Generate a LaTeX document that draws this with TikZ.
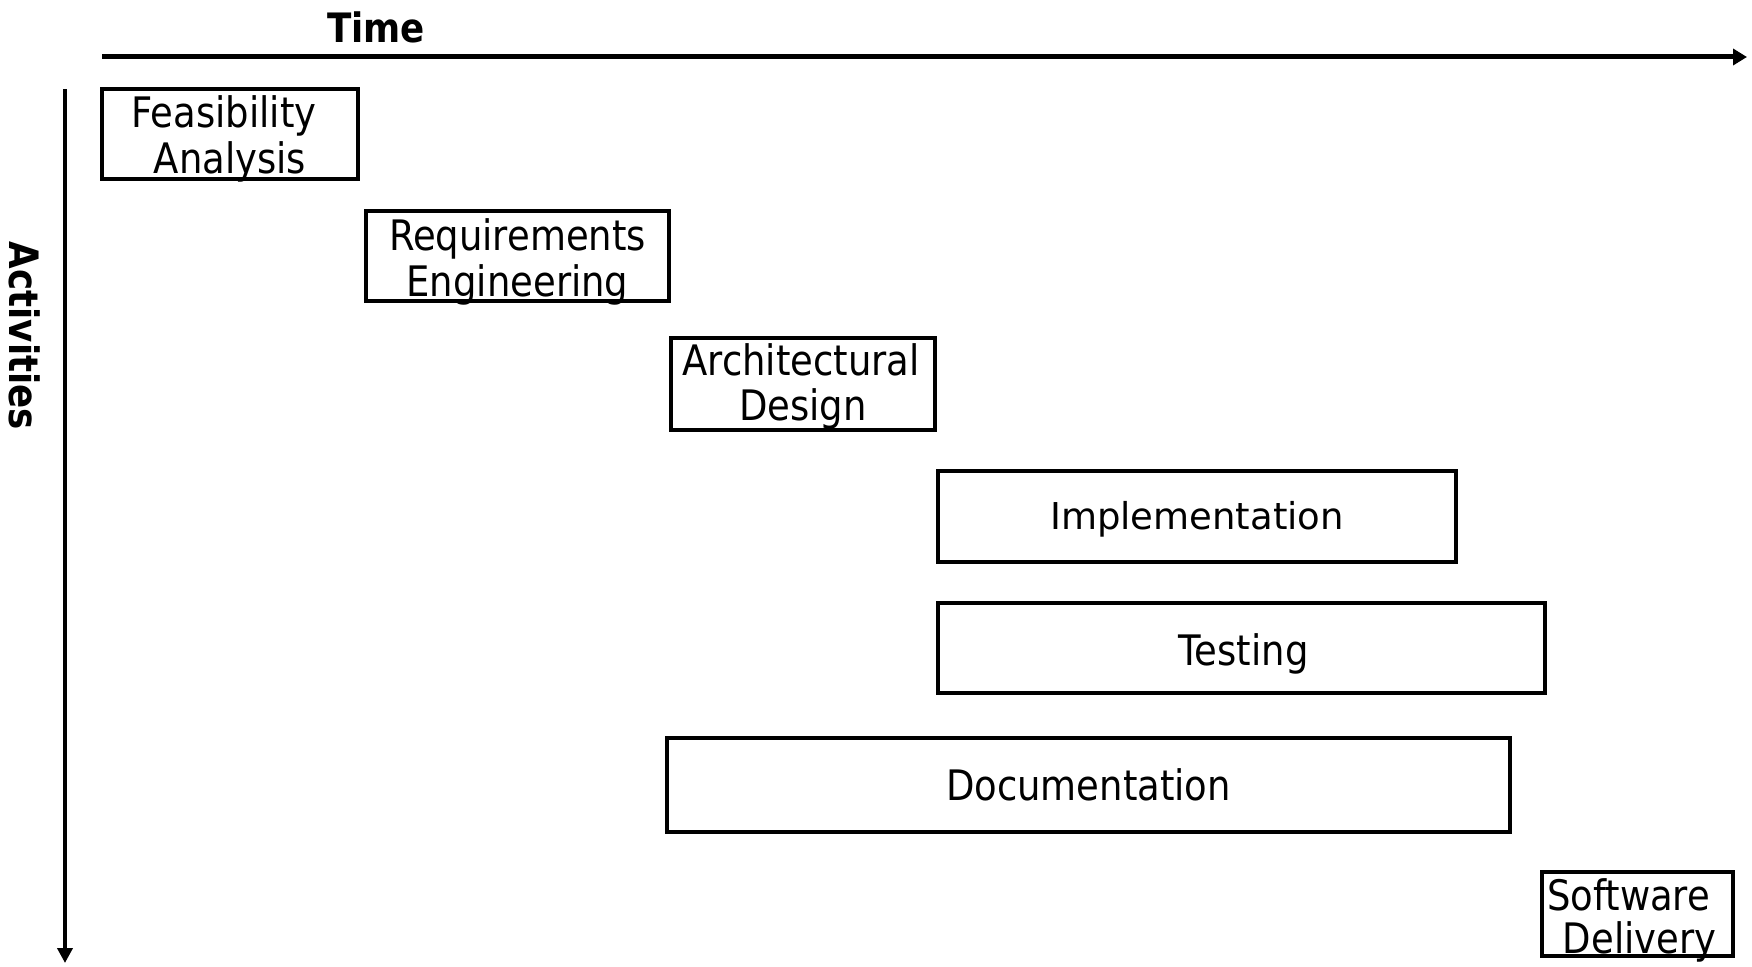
\documentclass[tikz,border=0pt]{standalone}
\usepackage{fontspec}
\setmainfont{DejaVu Sans}[FakeStretch=0.88]
\newfontfamily\implfont{DejaVu Sans}
\usetikzlibrary{arrows.meta}
\begin{document}
\begin{tikzpicture}[x=1pt,y=-1pt,
  box/.style={draw=black,line width=4pt,inner sep=0pt,fill=none},
  lbl/.style={font=\fontsize{42}{46}\selectfont,inner sep=0pt,anchor=base},
  impl/.style={font=\implfont\fontsize{37}{44}\selectfont,inner sep=0pt,anchor=base},
  axislbl/.style={font=\bfseries\fontsize{40.5}{46}\selectfont,inner sep=0pt},
  axis/.style={line width=5pt,-{Triangle[length=14pt,width=16pt]}},
  vaxis/.style={line width=4pt,-{Triangle[length=15pt,width=15pt]}}]
\useasboundingbox (0,0) rectangle (1752,966);
% axes
\coordinate (hs) at (102,57);
\coordinate (he) at (1747,57);
\coordinate (vs) at (65,89);
\coordinate (ve) at (65,963);
\draw[axis] (hs) -- (he);
\draw[vaxis] (vs) -- (ve);
\node[axislbl,anchor=base] (time) at (376,42) {Time};
\node[axislbl,rotate=-90] (act) at (25,336) {Activities};
% boxes
\node[box,minimum width=256pt,minimum height=90pt] (fa) at (230,134) {};
\node[box,minimum width=303pt,minimum height=90pt] (re) at (517.5,256) {};
\node[box,minimum width=264pt,minimum height=92pt] (ad) at (803,384) {};
\node[box,minimum width=518pt,minimum height=91pt] (im) at (1197,516.5) {};
\node[box,minimum width=607pt,minimum height=90pt] (te) at (1241.5,648) {};
\node[box,minimum width=843pt,minimum height=94pt] (do) at (1088.5,785) {};
\node[box,minimum width=191pt,minimum height=84pt] (sd) at (1637.5,914) {};
% labels
\node[lbl] (fa1) at ([xshift=-6pt,yshift=7pt]fa.center) {Feasibility};
\node[lbl] (fa2) at ([yshift=-39pt]fa.center) {Analysis};
\node[lbl] (re1) at ([yshift=6pt]re.center) {Requirements};
\node[lbl] (re2) at ([yshift=-40pt]re.center) {Engineering};
\node[lbl] (ad1) at ([xshift=-2pt,yshift=9pt]ad.center) {Architectural};
\node[lbl] (ad2) at ([yshift=-36pt]ad.center) {Design};
\node[impl] (imt) at ([yshift=-12.5pt]im.center) {Implementation};
\node[lbl] (tet) at ([xshift=2pt,yshift=-17pt]te.center) {Testing};
\node[lbl] (dot) at ([yshift=-15pt]do.center) {Documentation};
\node[lbl] (sd1) at ([xshift=-9pt,yshift=4pt]sd.center) {Software};
\node[lbl] (sd2) at ([xshift=2pt,yshift=-39pt]sd.center) {Delivery};
\end{tikzpicture}
\end{document}
